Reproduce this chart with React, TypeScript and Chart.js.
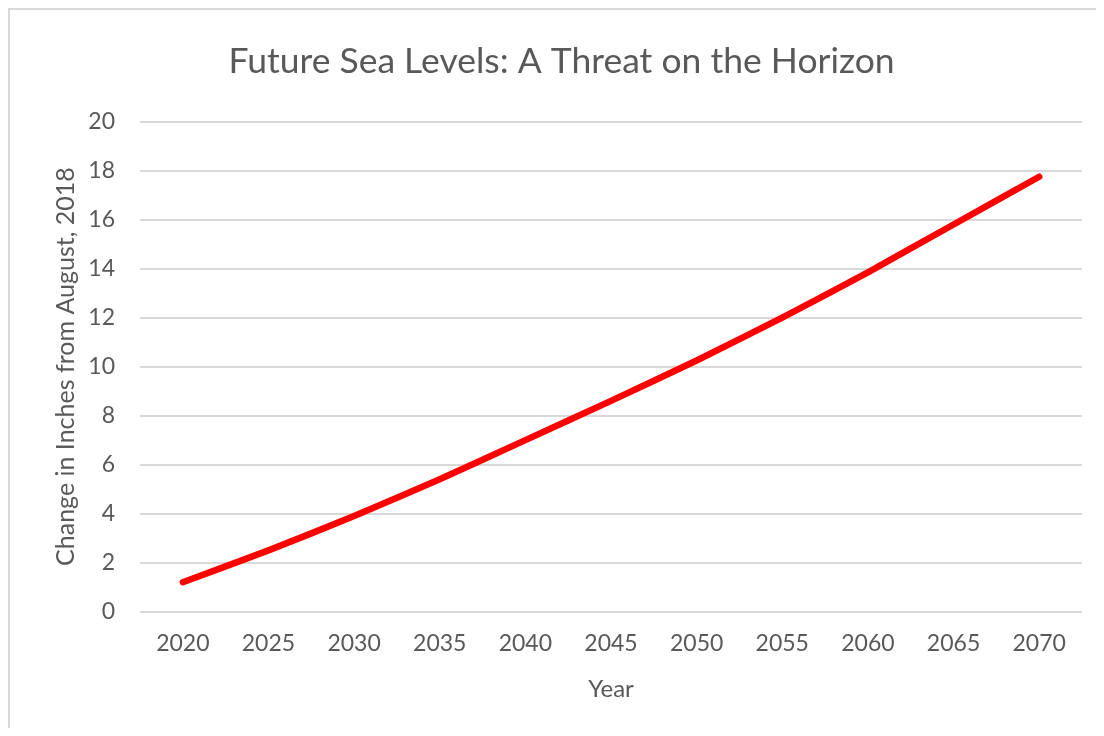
import React, { useEffect, useRef } from "react";
import { Chart, registerables } from "chart.js";

Chart.register(...registerables);

// Projected sea-level rise by year (inches relative to August 2018)
const years = ["2020", "2025", "2030", "2035", "2040", "2045", "2050", "2055", "2060", "2065", "2070"];
const seaLevelChange = [1.2, 2.5, 3.9, 5.4, 7.0, 8.6, 10.25, 12.0, 13.85, 15.8, 17.75];

const chartTitle = "Future Sea Levels: A Threat on the Horizon";
const xAxisTitle = "Year";
const yAxisTitle = "Change in Inches from August, 2018";

const textColor = "#595959";
const gridColor = "#d9d9d9";
const fontFamily = "Lato, 'Open Sans', sans-serif";

export default function App() {
  const canvasRef = useRef<HTMLCanvasElement | null>(null);

  useEffect(() => {
    if (!canvasRef.current) return;
    const chart = new Chart(canvasRef.current, {
      type: "line",
      data: {
        labels: years,
        datasets: [
          {
            label: "Sea level change",
            data: seaLevelChange,
            borderColor: "#ff0000",
            backgroundColor: "#ff0000",
            borderWidth: 6.5,
            borderCapStyle: "round",
            borderJoinStyle: "round",
            pointRadius: 0,
            tension: 0.2,
            fill: false,
          },
        ],
      },
      options: {
        responsive: false,
        animation: false,
        layout: { padding: { left: 31, right: 14, top: 0, bottom: 0 } },
        plugins: {
          legend: { display: false },
          tooltip: { enabled: false },
          title: {
            display: true,
            text: chartTitle,
            color: textColor,
            font: { family: fontFamily, size: 35.5, weight: "normal" },
            padding: { top: 30, bottom: 39 },
          },
        },
        scales: {
          x: {
            type: "category",
            offset: true,
            grid: { display: false, drawTicks: false },
            border: { display: false },
            ticks: {
              color: textColor,
              font: { family: fontFamily, size: 23 },
              padding: 18,
              maxRotation: 0,
            },
            title: {
              display: true,
              text: xAxisTitle,
              color: textColor,
              font: { family: fontFamily, size: 24 },
              padding: { top: 0, bottom: 24 },
            },
          },
          y: {
            min: 0,
            max: 20,
            grid: { color: gridColor, lineWidth: 2, drawTicks: false },
            border: { display: false },
            ticks: {
              stepSize: 2,
              color: textColor,
              font: { family: fontFamily, size: 23 },
              padding: 25,
            },
            title: {
              display: true,
              text: yAxisTitle,
              color: textColor,
              font: { family: fontFamily, size: 25 },
              padding: { top: 10, bottom: 0 },
            },
            afterFit: (scale: any) => {
              scale.width = 99;
            },
          },
        },
      },
    });
    return () => chart.destroy();
  }, []);

  return (
    <div
      style={{
        width: 1086,
        height: 718,
        borderTop: "2px solid #d9d9d9",
        borderLeft: "2px solid #d9d9d9",
        background: "#ffffff",
      }}
    >
      <canvas ref={canvasRef} width={1086} height={718} style={{ display: "block" }} />
    </div>
  );
}
